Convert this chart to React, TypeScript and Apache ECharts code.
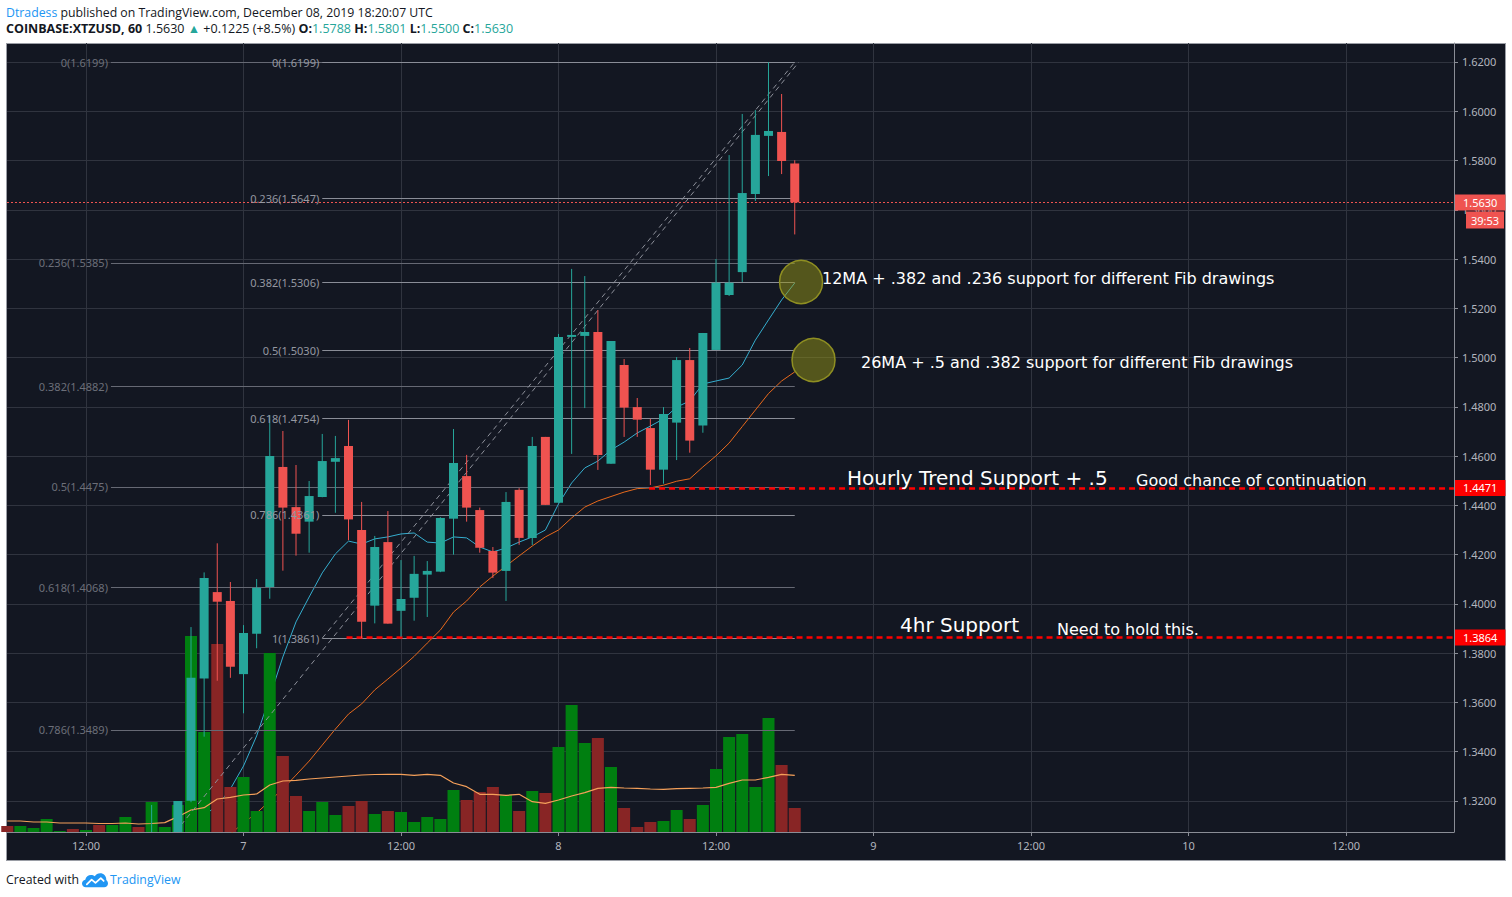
import React, { useEffect, useRef } from "react";
import * as echarts from "echarts";

// ---------- DATA (x = hours from 2019-12-07 00:00 UTC, 1h bars) ----------
const TIME_TICKS = [-12, 0, 12, 24, 36, 48, 60, 72, 84];
const TIME_LABELS = ["12:00", "7", "12:00", "8", "12:00", "9", "12:00", "10", "12:00"];
const PRICE_TICKS = [1.32, 1.34, 1.36, 1.38, 1.4, 1.42, 1.44, 1.46, 1.48, 1.5, 1.52, 1.54, 1.56, 1.58, 1.6, 1.62];

const CANDLE_HOURS = [-7, -5, -4, -3, -2, -1, 0, 1, 2, 3, 4, 5, 6, 7, 8, 9, 10, 11, 12, 13, 14, 15, 16, 17, 18, 19, 20, 21, 22, 23, 24, 25, 26, 27, 28, 29, 30, 31, 32, 33, 34, 35, 36, 37, 38, 39, 40, 41, 42];
const OPEN = [1.298, 1.302, 1.3201, 1.3697, 1.4048, 1.4012, 1.3715, 1.3879, 1.4069, 1.4556, 1.4393, 1.4334, 1.4434, 1.4577, 1.4641, 1.43, 1.3993, 1.4251, 1.3972, 1.4025, 1.4119, 1.4131, 1.4346, 1.4519, 1.4381, 1.4215, 1.4134, 1.4463, 1.4268, 1.4678, 1.4411, 1.5084, 1.5088, 1.5104, 1.4569, 1.497, 1.4799, 1.4714, 1.4545, 1.4736, 1.499, 1.4724, 1.5031, 1.5254, 1.5347, 1.5664, 1.59, 1.5916, 1.5788];
const CLOSE = [1.304, 1.32, 1.37, 1.4105, 1.4009, 1.3745, 1.3882, 1.4066, 1.46, 1.4391, 1.4285, 1.4438, 1.458, 1.4592, 1.4343, 1.3928, 1.4231, 1.392, 1.402, 1.4122, 1.4134, 1.4349, 1.4572, 1.4391, 1.4228, 1.4127, 1.4414, 1.4268, 1.4641, 1.4402, 1.5084, 1.5092, 1.5104, 1.4605, 1.5067, 1.4797, 1.4748, 1.4545, 1.4771, 1.499, 1.4663, 1.51, 1.5304, 1.5304, 1.5668, 1.5904, 1.592, 1.5798, 1.563];
const LOW = [1.295, 1.3, 1.3195, 1.3461, 1.3688, 1.37, 1.3556, 1.382, 1.4021, 1.4135, 1.4196, 1.4208, 1.4433, 1.437, 1.4259, 1.3861, 1.3921, 1.392, 1.3867, 1.3932, 1.3947, 1.4129, 1.42, 1.4334, 1.4208, 1.4105, 1.4012, 1.424, 1.4239, 1.4402, 1.4411, 1.4609, 1.4795, 1.4544, 1.4569, 1.4678, 1.4678, 1.4483, 1.4488, 1.4584, 1.4614, 1.4695, 1.5031, 1.525, 1.5307, 1.5636, 1.5737, 1.5745, 1.55];
const HIGH = [1.3184, 1.32, 1.3906, 1.4128, 1.4246, 1.4089, 1.3914, 1.4101, 1.4767, 1.4702, 1.4564, 1.4499, 1.469, 1.4682, 1.4747, 1.4414, 1.4276, 1.4377, 1.4178, 1.4195, 1.4174, 1.4352, 1.471, 1.4605, 1.4391, 1.4231, 1.4454, 1.447, 1.4678, 1.4678, 1.5096, 1.536, 1.5331, 1.5193, 1.5067, 1.4994, 1.4836, 1.4751, 1.4799, 1.5002, 1.5039, 1.51, 1.54, 1.5822, 1.5989, 1.6005, 1.6199, 1.607, 1.5801];

// moving averages of close
const MA12_START = -3;
const MA12 = [1.3143, 1.318, 1.3249, 1.3342, 1.3464, 1.3622, 1.3785, 1.3927, 1.4028, 1.4126, 1.4203, 1.4255, 1.4243, 1.4264, 1.4272, 1.4284, 1.4288, 1.4251, 1.4247, 1.4272, 1.4268, 1.4231, 1.4211, 1.4227, 1.4251, 1.4272, 1.43, 1.4406, 1.4491, 1.4552, 1.458, 1.4625, 1.4657, 1.4694, 1.4722, 1.4751, 1.4799, 1.4824, 1.4893, 1.4905, 1.4917, 1.497, 1.5071, 1.5153, 1.5234, 1.5303];
const MA26_START = -1;
const MA26 = [1.3066, 1.3111, 1.3151, 1.32, 1.3249, 1.3305, 1.3362, 1.3427, 1.3492, 1.3553, 1.3594, 1.3651, 1.3695, 1.374, 1.3787, 1.3841, 1.3894, 1.3967, 1.4012, 1.4069, 1.4113, 1.4154, 1.4195, 1.4235, 1.4272, 1.43, 1.4349, 1.4393, 1.4418, 1.4436, 1.4454, 1.4468, 1.4471, 1.4482, 1.4498, 1.4508, 1.4556, 1.4601, 1.4653, 1.472, 1.4787, 1.4854, 1.4905, 1.4942];

// volume (thousand XTZ), hours -18 .. 42
const VOL_START = -18;
const VOLUME = [18, 18, 12, 39, 3, 9, 6, 21, 21, 45, 15, 90, 15, 81, 588, 300, 564, 135, 165, 63, 537, 228, 108, 63, 90, 51, 78, 93, 54, 63, 60, 30, 45, 39, 126, 96, 120, 135, 111, 63, 123, 117, 255, 381, 267, 282, 195, 72, 15, 30, 33, 66, 39, 81, 189, 285, 294, 135, 342, 201, 72];
const VOLUME_SIDE = [-1, 1, 1, 1, 1, -1, 1, -1, 1, 1, -1, 1, 1, 1, 1, 1, -1, -1, 1, 1, 1, -1, -1, 1, 1, 1, -1, -1, 1, -1, 1, 1, 1, 1, 1, -1, -1, -1, 1, -1, 1, -1, 1, 1, 1, -1, 1, -1, -1, -1, 1, 1, -1, 1, 1, 1, 1, 1, 1, -1, -1];
const VOL_MA = [33, 33, 30, 30, 27, 27, 27, 25.5, 25.5, 27, 24, 25.5, 28, 46, 66, 73, 99, 104, 111, 114, 141, 153, 155, 159, 162, 165, 168, 171, 172.5, 173, 173, 170, 173, 170, 147, 136, 113, 113, 110, 113, 91, 86, 96, 108, 118, 131, 134, 132, 131, 129, 128, 130, 131, 132, 134, 146, 156, 156, 164, 173, 170];

// Fibonacci retracement drawings: [ratio, price]
const FIB1_LEVELS: [number, number][] = [[0, 1.6199], [0.236, 1.5385], [0.382, 1.4882], [0.5, 1.4475], [0.618, 1.4068], [0.786, 1.3489]];
const FIB1_LOW = 1.2751;
const FIB2_LEVELS: [number, number][] = [[0, 1.6199], [0.236, 1.5647], [0.382, 1.5306], [0.5, 1.503], [0.618, 1.4754], [0.786, 1.4361], [1, 1.3861]];
const FIB1_HOURS = { start: -10.1, trendEnd: 42.3, linesEnd: 42 };
const FIB2_HOURS = { start: 6, end: 42 };

// horizontal support rays
const SUPPORT_PRICES = [1.4471, 1.3864];
const SUPPORT_FROM_HOURS = [30.9, 7.85];
const LAST_PRICE = 1.563;
const COUNTDOWN = "39:53";

// highlighted zones (circles): [hour, price]
const CIRCLES: [number, number][] = [[42.48, 1.5307], [43.43, 1.499]];

// ---------- LAYOUT / STYLE ----------
const X_MIN = -18.02;
const X_MAX = 92.23;
const Y_MIN = 1.30741;
const Y_MAX = 1.62771;
const VOL_AXIS_MAX = 2367;
const UP = "#26a69a";
const DOWN = "#ef5350";
const GRID_COLOR = "#30343f";
const AXIS_TEXT = "#b2b5be";
const AXIS_FONT = "Noto Sans";
const CANDLE_WIDTH = 9;

const ANNOTATIONS = [
  { x: 822, y: 278, size: 16, text: "12MA + .382 and .236 support for different Fib drawings" },
  { x: 861, y: 362, size: 16, text: "26MA + .5 and .382 support for different Fib drawings" },
  { x: 847, y: 478, size: 20, text: "Hourly Trend Support + .5" },
  { x: 1136, y: 480, size: 16, text: "Good chance of continuation" },
  { x: 900, y: 625, size: 20, text: "4hr Support" },
  { x: 1057, y: 629, size: 16, text: "Need to hold this." },
];

function fibLines(levels: [number, number][], h1: number, h2: number, lineColor: string, labelColor: string) {
  return levels
    .filter(([, p]) => p >= Y_MIN && p <= Y_MAX)
    .map(([r, p]) => [
      {
        coord: [h1, p],
        lineStyle: { color: lineColor, width: 1, type: "solid" },
        label: {
          show: true,
          position: "start",
          distance: 3,
          formatter: `${r}(${p.toFixed(4)})`,
          color: labelColor,
          fontSize: 11,
          fontFamily: AXIS_FONT,
        },
      },
      { coord: [h2, p] },
    ]);
}

function clipToBottom(a: [number, number], b: [number, number]): [number, number] {
  if (a[1] >= Y_MIN) return a;
  const t = (Y_MIN - a[1]) / (b[1] - a[1]);
  return [a[0] + t * (b[0] - a[0]), Y_MIN];
}

function renderCandle(_params: any, api: any) {
  const h = api.value(0);
  const o = api.value(1);
  const c = api.value(2);
  const pO = api.coord([h, o]);
  const pC = api.coord([h, c]);
  const pL = api.coord([h, api.value(3)]);
  const pH = api.coord([h, api.value(4)]);
  const color = c >= o ? UP : DOWN;
  const x = pO[0];
  const top = Math.min(pO[1], pC[1]);
  const bot = Math.max(pO[1], pC[1]);
  return {
    type: "group",
    children: [
      { type: "line", shape: { x1: x, y1: pH[1], x2: x, y2: pL[1] }, style: { stroke: color, lineWidth: 1 } },
      { type: "rect", shape: { x: x - CANDLE_WIDTH / 2, y: top, width: CANDLE_WIDTH, height: Math.max(bot - top, 1.5) }, style: { fill: color } },
    ],
  };
}

function buildOption() {
  const candles = CANDLE_HOURS.map((h, i) => [h, OPEN[i], CLOSE[i], LOW[i], HIGH[i]]);
  const fib1Top: [number, number] = [FIB1_HOURS.trendEnd, FIB1_LEVELS[0][1]];
  const fib1Start = clipToBottom([FIB1_HOURS.start, FIB1_LOW], fib1Top);
  const fib2Bottom = FIB2_LEVELS[FIB2_LEVELS.length - 1][1];
  const trendStyle = { color: "#8d909a", width: 1, type: [5, 4] };
  const tagLabel = (text: string, bg: string) => ({
    show: true, position: "end", distance: 1, formatter: text, color: "#fff",
    backgroundColor: bg, padding: [2, 8, 2, 8], lineHeight: 12, fontSize: 11, fontFamily: AXIS_FONT,
  });

  const drawings: any[] = [
    ...fibLines(FIB1_LEVELS, FIB1_HOURS.start, FIB1_HOURS.linesEnd, "#666974", "#6c6f79"),
    ...fibLines(FIB2_LEVELS, FIB2_HOURS.start, FIB2_HOURS.end, "#8a8d97", "#9598a1"),
    [{ coord: fib1Start, lineStyle: trendStyle, label: { show: false } }, { coord: fib1Top }],
    [{ coord: [FIB2_HOURS.start, fib2Bottom], lineStyle: trendStyle, label: { show: false } }, { coord: [FIB2_HOURS.end, FIB2_LEVELS[0][1]] }],
    [
      { coord: [X_MIN, LAST_PRICE], lineStyle: { color: DOWN, width: 1, type: [2, 2] }, label: tagLabel(LAST_PRICE.toFixed(4), DOWN) },
      { coord: [X_MAX, LAST_PRICE] },
    ],
    ...SUPPORT_PRICES.map((p, i) => [
      { coord: [SUPPORT_FROM_HOURS[i], p], lineStyle: { color: "#ff0000", width: 2.5, type: [6, 4] }, label: tagLabel(p.toFixed(4), "#ff0000") },
      { coord: [X_MAX, p] },
    ]),
  ];

  return {
    animation: false,
    backgroundColor: "transparent",
    grid: { left: 7, top: 43, width: 1447, height: 789, containLabel: false, outerBoundsMode: "none" },
    xAxis: {
      type: "value",
      min: X_MIN,
      max: X_MAX,
      axisLine: { show: true, onZero: false, lineStyle: { color: "#8a8d96", width: 1 } },
      axisTick: { show: true, length: 4, customValues: TIME_TICKS, lineStyle: { color: "#8a8d96" } },
      axisLabel: {
        customValues: TIME_TICKS,
        formatter: (v: number) => TIME_LABELS[TIME_TICKS.indexOf(v)] ?? "",
        color: AXIS_TEXT,
        fontSize: 11,
        fontFamily: AXIS_FONT,
        margin: 8,
      },
      splitLine: { show: true, lineStyle: { color: GRID_COLOR, width: 1 } },
    },
    yAxis: [
      {
        type: "value",
        position: "right",
        min: Y_MIN,
        max: Y_MAX,
        axisLine: { show: true, onZero: false, lineStyle: { color: "#8a8d96", width: 1 } },
        axisTick: { show: true, length: 4, customValues: PRICE_TICKS, lineStyle: { color: "#8a8d96" } },
        axisLabel: {
          customValues: PRICE_TICKS,
          formatter: (v: number) => v.toFixed(4),
          color: AXIS_TEXT,
          fontSize: 11,
          fontFamily: AXIS_FONT,
          margin: 8,
        },
        splitLine: { show: true, lineStyle: { color: GRID_COLOR, width: 1 } },
      },
      { type: "value", position: "left", min: 0, max: VOL_AXIS_MAX, show: false, axisLine: { show: false, onZero: false }, splitLine: { show: false } },
    ],
    series: [
      {
        type: "line", name: "MA 12", data: MA12.map((v, i) => [MA12_START + i, v]),
        yAxisIndex: 0, symbol: "none", showSymbol: false, silent: true, z: 2,
        lineStyle: { color: "#35aecf", width: 1 },
      },
      {
        type: "line", name: "MA 26", data: MA26.map((v, i) => [MA26_START + i, v]),
        yAxisIndex: 0, symbol: "none", showSymbol: false, silent: true, z: 2,
        lineStyle: { color: "#e8691c", width: 1 },
      },
      {
        type: "bar", name: "Volume", yAxisIndex: 1, barWidth: 12, silent: true, z: 3,
        data: VOLUME.map((v, i) => ({
          value: [VOL_START + i, v],
          itemStyle: { color: VOLUME_SIDE[i] > 0 ? "#007f10" : "#882525" },
        })),
      },
      {
        type: "line", name: "Volume MA", yAxisIndex: 1, symbol: "none", showSymbol: false, silent: true, z: 4,
        data: VOL_MA.map((v, i) => [VOL_START + i, v]),
        lineStyle: { color: "#f5a05a", width: 1.2 },
      },
      {
        type: "custom", name: "XTZUSD", yAxisIndex: 0, data: candles, encode: { x: 0, y: [1, 2, 3, 4] },
        renderItem: renderCandle, clip: true, silent: true, z: 5,
      },
      {
        type: "line", name: "drawings", yAxisIndex: 0, data: [], silent: true, z: 10,
        markLine: { silent: true, symbol: ["none", "none"], animation: false, label: { show: false }, data: drawings },
      },
    ],
  };
}

export default function App() {
  const ref = useRef<HTMLDivElement>(null);
  useEffect(() => {
    const chart = echarts.init(ref.current!, null, { renderer: "svg" });
    chart.setOption(buildOption() as any);
    const xp = (h: number) => chart.convertToPixel({ xAxisIndex: 0 } as any, h) as number;
    const yp = (p: number) => chart.convertToPixel({ yAxisIndex: 0 } as any, p) as number;
    const right = xp(X_MAX);
    const lastY = yp(LAST_PRICE);
    const elements: any[] = [
      ...CIRCLES.map(([h, p], i) => ({
        type: "circle", id: "circle" + i, silent: true, z: 60,
        shape: { cx: xp(h), cy: yp(p), r: 21.5 },
        style: { fill: "rgba(150,150,22,0.5)", stroke: "#8f8f22", lineWidth: 1.5 },
      })),
      {
        type: "rect", id: "cdbox", silent: true, z: 60,
        shape: { x: right + 12, y: lastY + 9, width: 38, height: 17 },
        style: { fill: DOWN },
      },
      {
        type: "text", id: "cdtext", silent: true, z: 61, x: right + 31, y: lastY + 18,
        style: { text: COUNTDOWN, fill: "#fff", font: `11px "${AXIS_FONT}"`, lineHeight: 12, align: "center", verticalAlign: "middle" },
      },
      ...ANNOTATIONS.map((a, i) => ({
        type: "text", id: "ann" + i, silent: true, z: 70, x: a.x, y: a.y,
        style: { text: a.text, fill: "#ffffff", font: `${a.size}px "DejaVu Sans"`, align: "left", verticalAlign: "middle" },
      })),
    ];
    chart.setOption({ graphic: { elements } } as any);
    return () => chart.dispose();
  }, []);

  const teal = "#26a69a";
  const line = (top: number, size: number): React.CSSProperties => ({
    position: "absolute", left: 6, top, font: `${size}px "Open Sans", "Noto Sans", sans-serif`,
    lineHeight: "16px", color: "#131722", whiteSpace: "nowrap",
  });
  return (
    <div style={{ position: "absolute", left: 0, top: 0, width: 1512, height: 897, background: "#fff", overflow: "hidden" }}>
      <div style={line(5, 12.3)}>
        <span style={{ color: "#2196f3" }}>Dtradess</span> published on TradingView.com, December 08, 2019 18:20:07 UTC
      </div>
      <div style={line(21, 12.5)}>
        <b>COINBASE:XTZUSD, 60</b> 1.5630 <span style={{ color: teal }}>▲</span> +0.1225 (+8.5%) <b>O:</b>
        <span style={{ color: teal }}>1.5788</span> <b>H:</b><span style={{ color: teal }}>1.5801</span> <b>L:</b>
        <span style={{ color: teal }}>1.5500</span> <b>C:</b><span style={{ color: teal }}>1.5630</span>
      </div>
      <div style={{ position: "absolute", left: 6, top: 43, width: 1500, height: 818, boxSizing: "border-box", border: "1px solid #9a9da5", background: "#131722" }} />
      <div ref={ref} style={{ position: "absolute", left: 0, top: 0, width: 1512, height: 897 }} />
      <div style={{ ...line(872, 12.3), display: "flex", alignItems: "center" }}>
        <span>Created with</span>
        <svg width="26" height="15" viewBox="0 0 27 15" style={{ margin: "0 2px 0 3px" }}>
          <path d="M4 14.5C1.8 14.5 0 12.8 0 10.6C0 8.6 1.5 7 3.4 6.7C4 3.8 6.5 1.8 9.3 1.8C10.8 1.8 12.2 2.3 13.3 3.2C14.5 1.3 16.5 0 18.9 0C22.4 0 25.2 2.8 25.2 6.3V6.9C26.3 7.7 27 9 27 10.5C27 12.7 25.2 14.5 23 14.5Z" fill="#2196f3" />
          <polyline points="5,11.5 10,6.5 14,10 19.5,5 22.5,8" fill="none" stroke="#fff" strokeWidth="1.8" strokeLinejoin="round" strokeLinecap="round" />
        </svg>
        <span style={{ color: "#2196f3" }}>TradingView</span>
      </div>
    </div>
  );
}
